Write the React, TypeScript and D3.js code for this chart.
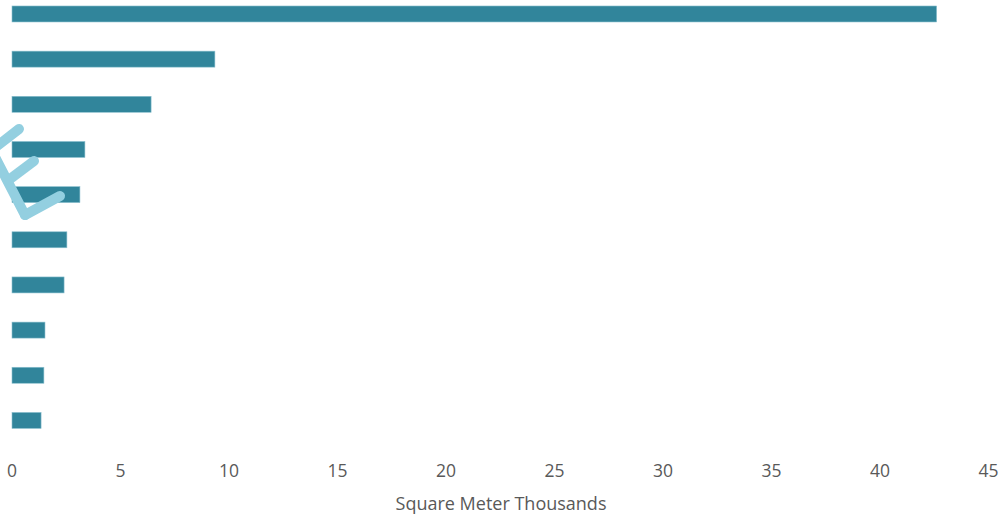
import React from "react";
import * as d3 from "d3";

const categories = ["Cat 1", "Cat 2", "Cat 3", "Cat 4", "Cat 5", "Cat 6", "Cat 7", "Cat 8", "Cat 9", "Cat 10"];
const values = [42.61, 9.35, 6.41, 3.36, 3.13, 2.53, 2.4, 1.52, 1.47, 1.34];
const xTicks = [0, 5, 10, 15, 20, 25, 30, 35, 40, 45];
const axisTitle = "Square Meter Thousands";

const W = 1002;
const H = 515;

export default function App() {
  const x = d3.scaleLinear().domain([0, 45]).range([12, 988.5]);
  const y = d3
    .scaleBand<string>()
    .domain(categories)
    .range([-8.6, 443])
    .paddingInner(0.646)
    .paddingOuter(0.323);
  const line = d3.line();
  const wm: [number, number][][] = [
    [[-8, 150], [19, 129]],
    [[34, 161], [10, 179]],
    [[-6, 155], [25, 215]],
    [[25, 215], [60, 196]],
  ];
  return (
    <svg
      width={W}
      height={H}
      style={{ position: "absolute", left: 0, top: 0, background: "#fff" }}
      fontFamily="'Open Sans', sans-serif"
    >
      {categories.map((c, i) => (
        <rect
          key={c}
          x={x(0)}
          y={y(c)}
          width={x(values[i]) - x(0)}
          height={y.bandwidth()}
          fill="#31859b"
          stroke="#8cc0cf"
          strokeWidth={0.6}
        />
      ))}
      {wm.map((pts, i) => (
        <path
          key={i}
          d={line(pts) || ""}
          stroke="#93cfe0"
          strokeWidth={10}
          strokeLinecap="round"
          strokeLinejoin="round"
          fill="none"
        />
      ))}
      {xTicks.map((t) => (
        <text
          key={t}
          x={x(t)}
          y={477}
          textAnchor="middle"
          fontSize={17.5}
          fill="#595959"
        >
          {t}
        </text>
      ))}
      <text x={501} y={510} textAnchor="middle" fontSize={18} fill="#595959">
        {axisTitle}
      </text>
    </svg>
  );
}
